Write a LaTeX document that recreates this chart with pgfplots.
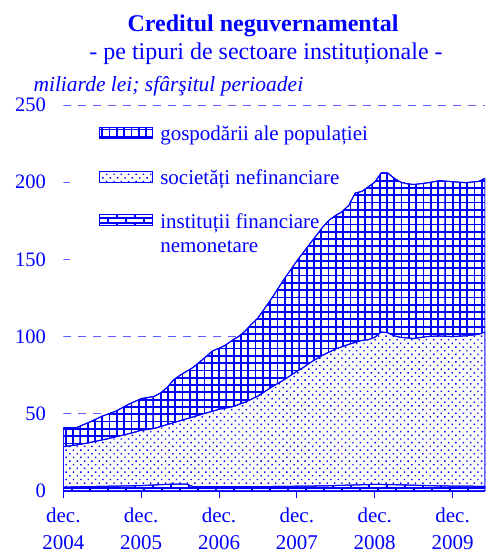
\documentclass[border=0pt]{standalone}
\usepackage{fontspec}
\setmainfont{Liberation Serif}
\usepackage{pgfplots}
\pgfplotsset{compat=1.18}
\usetikzlibrary{patterns,patterns.meta}

\pgfdeclarepatternformonly{mybricks}{\pgfqpoint{-1pt}{-1pt}}{\pgfqpoint{19pt}{11pt}}{\pgfqpoint{18pt}{10pt}}{%
  \pgfsetlinewidth{1.1pt}%
  \pgfpathmoveto{\pgfqpoint{0pt}{0pt}}\pgfpathlineto{\pgfqpoint{18pt}{0pt}}%
  \pgfpathmoveto{\pgfqpoint{0pt}{5pt}}\pgfpathlineto{\pgfqpoint{18pt}{5pt}}%
  \pgfpathmoveto{\pgfqpoint{0pt}{0pt}}\pgfpathlineto{\pgfqpoint{0pt}{5pt}}%
  \pgfpathmoveto{\pgfqpoint{9pt}{5pt}}\pgfpathlineto{\pgfqpoint{9pt}{10pt}}%
  \pgfusepath{stroke}%
}
\pgfdeclarepatternformonly{mygrid}{\pgfqpoint{-1pt}{-1pt}}{\pgfqpoint{8.3pt}{8.3pt}}{\pgfqpoint{7.3pt}{7.3pt}}{%
  \pgfsetlinewidth{1.8pt}%
  \pgfpathmoveto{\pgfqpoint{0pt}{-1pt}}\pgfpathlineto{\pgfqpoint{0pt}{8.3pt}}%
  \pgfpathmoveto{\pgfqpoint{-1pt}{0pt}}\pgfpathlineto{\pgfqpoint{8.3pt}{0pt}}%
  \pgfusepath{stroke}%
}
\definecolor{gridblue}{RGB}{90,90,255}

\begin{document}
\begin{tikzpicture}[color=blue]
\useasboundingbox (0,0) rectangle (485pt,553pt);
\begin{axis}[
  at={(63.3pt,62pt)}, anchor=origin,
  scale only axis, width=421.7pt, height=386pt,
  xmin=0, xmax=65, ymin=0, ymax=250,
  axis lines*=left,
  y axis line style={draw=none},
  x axis line style={-, draw=blue, line width=1.5pt},
  xtick={0,12,24,36,48,60},
  xticklabels={{dec.\\[2pt]2004},{dec.\\[2pt]2005},{dec.\\[2pt]2006},{dec.\\[2pt]2007},{dec.\\[2pt]2008},{dec.\\[2pt]2009}},
  xticklabel style={align=center, font=\fontsize{21}{25}\selectfont, text=blue, yshift=-6pt},
  xtick style={draw=blue, line width=1pt},
  tick align=outside, major tick length=7pt,
  ytick={0,50,100,150,200,250},
  ytick style={draw=none},
  yticklabel style={font=\fontsize{20.5}{24}\selectfont, text=blue, xshift=-7pt},
  /pgf/number format/assume math mode=true,
  legend style={at={(axis description cs:0.0854,0.956)}, anchor=north west, draw=none, fill=none,
    inner sep=0pt, outer sep=0pt, row sep=21pt, column sep=5pt,
    font=\fontsize{21}{24.3}\selectfont, text=blue, cells={anchor=base west, inner sep=0pt}},
  legend image code/.code={\draw[#1] (0pt,2.5pt) rectangle (53pt,13.5pt);},
]
% dashed reference lines (drawn under the areas)
\foreach \g in {50,100,250} {
  \edef\temp{\noexpand\draw[draw=gridblue, line width=0.8pt, dash pattern=on 8pt off 7pt] (axis cs:0,\g) -- (axis cs:65,\g);}
  \temp
}
\draw[draw=gridblue, line width=0.8pt] (axis cs:0,150) -- ++(7pt,0pt);
\draw[draw=gridblue, line width=0.8pt] (axis cs:0,200) -- ++(7pt,0pt);
% gospodarii ale populatiei (total)
\addplot[draw=blue, line width=1pt, fill=white, postaction={pattern=mygrid, pattern color=blue}]
coordinates {(0,41) (2,41) (4,44.5) (6,48.5) (8,51.5) (10,56) (12,59.8) (14,61.3) (15,63.5) (16,67) (17,72) (18,75) (19,77.5) (20,80) (21,83.5) (22,87) (23,90.7) (24,92.4) (25,94.5) (26,97.5) (27,100) (28,103.5) (29,108) (30,112) (32,124) (34,137) (36,149) (38,160) (40,171) (41,175.5) (42,178.5) (43,181) (44,185) (45,193) (46,194) (47,197) (48,200) (49,206) (50,206) (51,202.5) (52,200) (53,199) (54,198.5) (56,199.5) (58,201) (60,200.3) (62,199.7) (64,200.5) (65,202.5)} \closedcycle;
\addlegendentry{\strut gospodării ale populației}
% societati nefinanciare (cumulative)
\addplot[draw=blue, line width=1pt, fill=white, postaction={pattern={Dots[distance=5.2pt,angle=45,radius=1pt]}, pattern color=blue}]
coordinates {(0,28.7) (2,29.8) (4,31.3) (7,34) (10,37) (12,39.3) (14,40.5) (16,43) (18,45.5) (20,48) (22,50.5) (24,52.9) (26,54.5) (28,57.5) (29,59.5) (30,61.5) (32,67) (34,72) (36,77.5) (37,80) (38,83) (40,88) (42,92) (44,95) (46,97.5) (47,98) (48,99.5) (49,103) (50,102.5) (51,100.5) (52,99.5) (54,98.8) (56,100) (58,100.4) (60,100) (62,100.5) (64,101.5) (65,103)} \closedcycle;
\addlegendentry{\strut societăți nefinanciare}
% institutii financiare nemonetare
\addplot[draw=blue, line width=1pt, fill=white, postaction={pattern=mybricks, pattern color=blue}]
coordinates {(0,2.5) (6,3) (12,3.5) (17,4.5) (19,4.5) (20,2.8) (30,2.8) (40,3.3) (48,4.3) (52,4) (58,3.3) (65,3)} \closedcycle;
\addlegendentry{\begin{tabular}[t]{@{}l@{}}instituții financiare\\nemonetare\end{tabular}}
\end{axis}
\node[anchor=base, text=blue, font=\bfseries\fontsize{24}{28}\selectfont] at (263pt,521.3pt) {Creditul neguvernamental};
\node[anchor=base, text=blue, font=\fontsize{24}{28}\selectfont] at (266pt,493.7pt) {- pe tipuri de sectoare instituționale -};
\node[anchor=base west, inner sep=0pt, text=blue, font=\itshape\fontsize{21.5}{24}\selectfont] at (33.3pt,461.3pt) {miliarde lei; sfârşitul perioadei};
\end{tikzpicture}
\end{document}
